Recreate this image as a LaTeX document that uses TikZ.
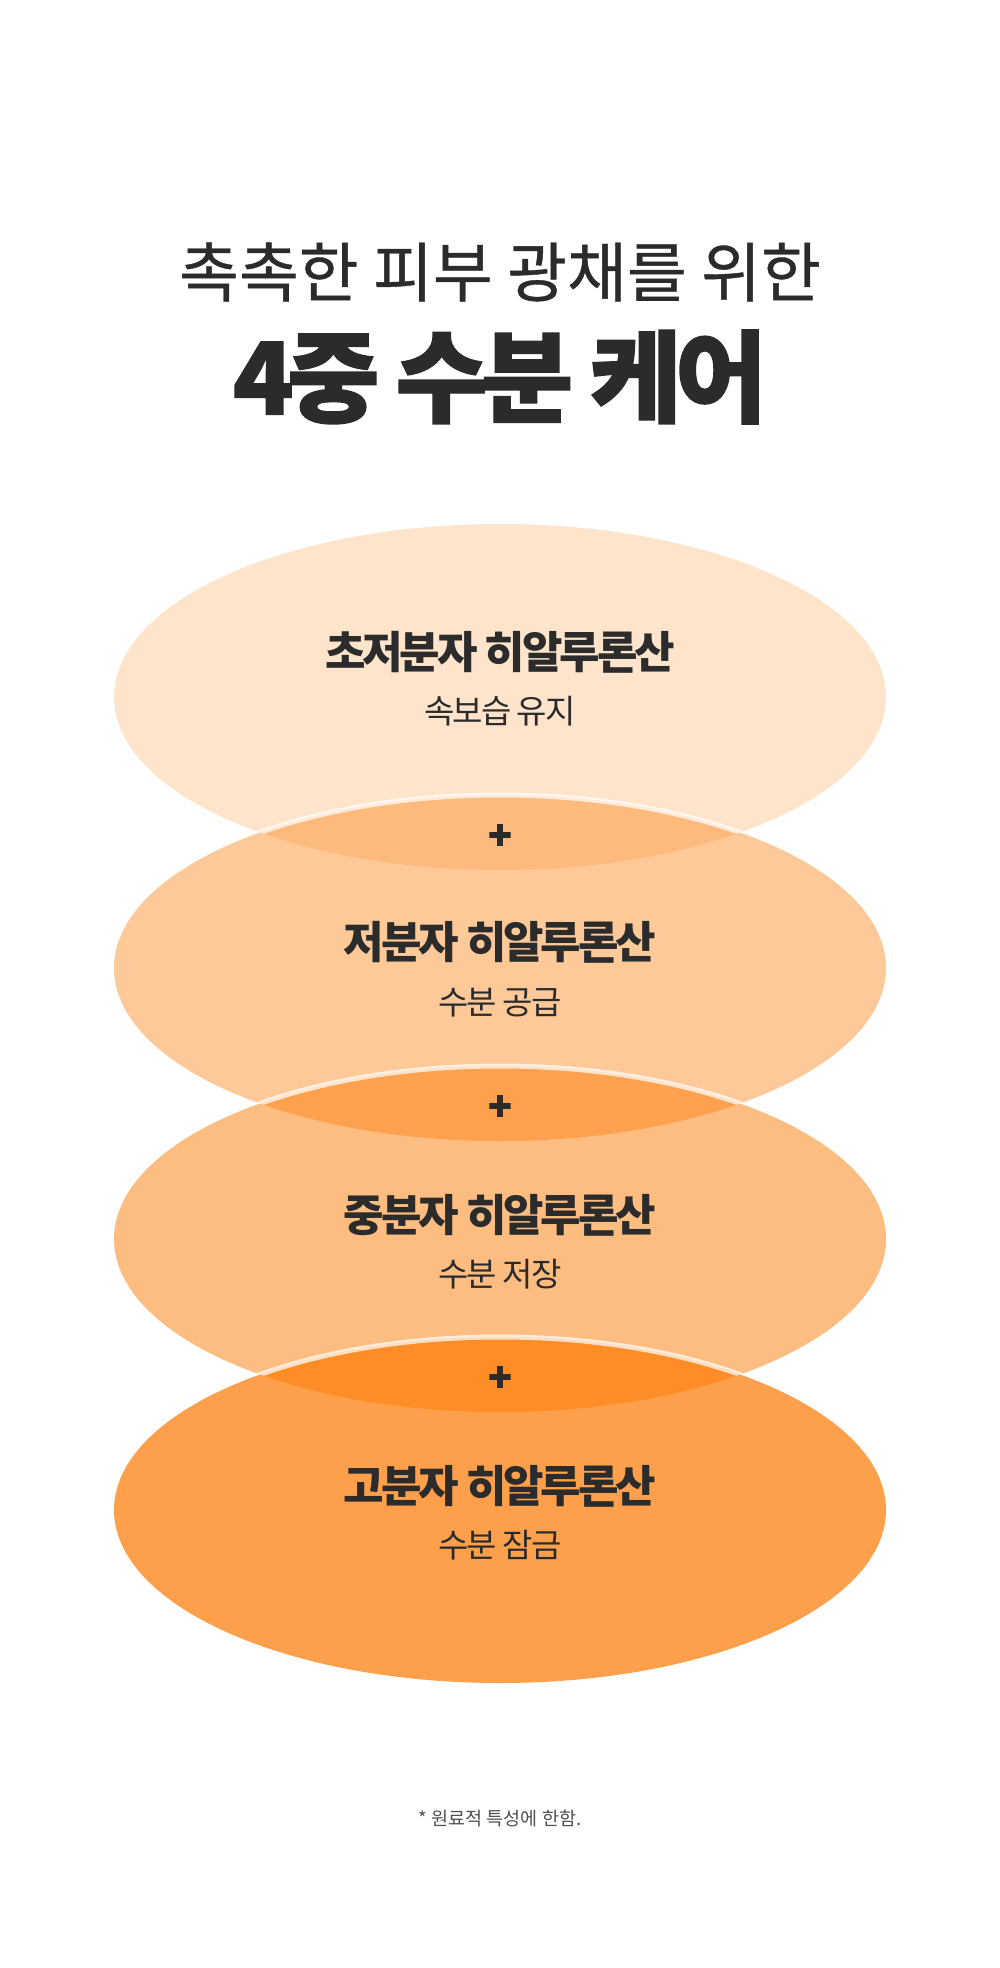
\documentclass[tikz,border=0pt]{standalone}
\usepackage{fontspec}
\usepackage{tikz}
\setmainfont{Noto Sans CJK KR}
\newfontfamily\leadfont{Noto Sans CJK KR}[FakeBold=0.6]
\newfontfamily\bigfont{Noto Sans CJK KR}[LetterSpace=-6.5, BoldFeatures={FakeBold=1.4}]
\newfontfamily\tightfont{Noto Sans CJK KR}[LetterSpace=-7.0]
\newfontfamily\subfont{Noto Sans CJK KR}[LetterSpace=-6.0]
\newfontfamily\plusfont{Noto Sans CJK KR}[BoldFeatures={FakeBold=2.5}]

\definecolor{ink}{HTML}{2B2B2B}
\definecolor{note}{HTML}{505050}
\definecolor{layerA}{HTML}{FEE4CB}
\definecolor{layerB}{HTML}{FDC999}
\definecolor{layerC}{HTML}{FDBD80}
\definecolor{layerD}{HTML}{FEA04B}
\definecolor{mixAB}{HTML}{FDBA7C}
\definecolor{mixBC}{HTML}{FEA14F}
\definecolor{mixCD}{HTML}{FE8C27}

\begin{document}
\begin{tikzpicture}[x=1pt,y=-1pt,
	molname/.style={font=\tightfont\bfseries\fontsize{44}{50}\selectfont, text=ink, inner sep=0pt},
	moldesc/.style={font=\subfont\fontsize{33}{38}\selectfont, text=ink, inner sep=0pt},
	plus/.style={font=\plusfont\bfseries\fontsize{38}{38}\selectfont, text=ink, inner sep=0pt},
	rim/.style={draw=white, draw opacity=0.7, line width=5pt}]
	\useasboundingbox (0,0) rectangle (1000,1968);
	\fill[white] (0,0) rectangle (1000,1968);
	% heading
	\node (TT) at (500,272) {\leadfont\fontsize{65}{70}\selectfont\color{ink}촉촉한 피부 광채를 위한};
	\node (TB) at (500,377) {\bigfont\bfseries\fontsize{100}{106}\selectfont\color{ink}4중 수분 케어};
	% four layers
	\fill[layerA] (500,697) ellipse [x radius=386pt, y radius=173pt];
	\fill[layerB] (500,968) ellipse [x radius=386pt, y radius=173pt];
	\begin{scope}
		\clip (500,697) ellipse [x radius=386pt, y radius=173pt];
		\fill[mixAB] (500,968) ellipse [x radius=386pt, y radius=173pt];
		\draw[rim] (500,968) ellipse [x radius=386pt, y radius=173pt];
	\end{scope}
	\fill[layerC] (500,1239) ellipse [x radius=386pt, y radius=173pt];
	\begin{scope}
		\clip (500,968) ellipse [x radius=386pt, y radius=173pt];
		\fill[mixBC] (500,1239) ellipse [x radius=386pt, y radius=173pt];
		\draw[rim] (500,1239) ellipse [x radius=386pt, y radius=173pt];
	\end{scope}
	\fill[layerD] (500,1510) ellipse [x radius=386pt, y radius=173pt];
	\begin{scope}
		\clip (500,1239) ellipse [x radius=386pt, y radius=173pt];
		\fill[mixCD] (500,1510) ellipse [x radius=386pt, y radius=173pt];
		\draw[rim] (500,1510) ellipse [x radius=386pt, y radius=173pt];
	\end{scope}
	% labels
	\node[molname] (N1) at (500,652) {초저분자 히알루론산};
	\node[moldesc] (D1) at (500,711) {속보습 유지};
	\node[molname] (N2) at (500,942) {저분자 히알루론산};
	\node[moldesc] (D2) at (500,1003) {수분 공급};
	\node[molname] (N3) at (500,1215) {중분자 히알루론산};
	\node[moldesc] (D3) at (500,1274) {수분 저장};
	\node[molname] (N4) at (500,1486) {고분자 히알루론산};
	\node[moldesc] (D4) at (500,1545) {수분 잠금};
	\node[plus] (P1) at (500,837) {+};
	\node[plus] (P2) at (500,1108) {+};
	\node[plus] (P3) at (500,1379) {+};
	% footnote
	\node (FN) at (500,1818) {\fontsize{18.5}{22}\selectfont\color{note}* 원료적 특성에 한함.};
\end{tikzpicture}
\end{document}
